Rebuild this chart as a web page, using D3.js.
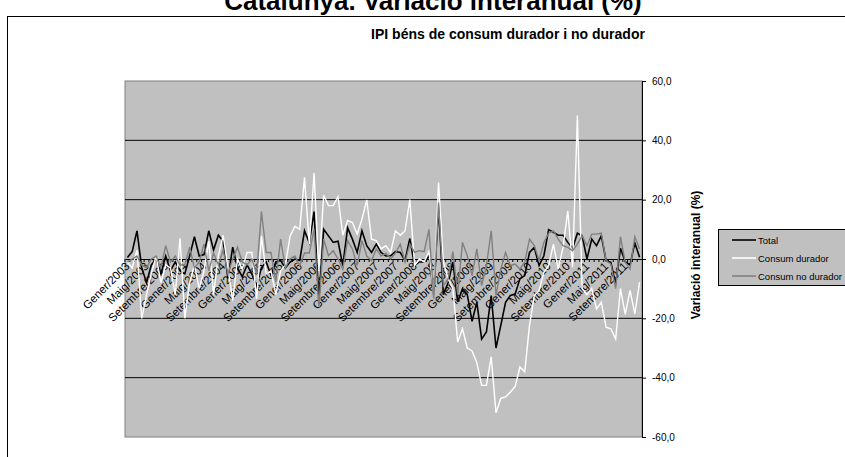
<!DOCTYPE html>
<html><head><meta charset="utf-8">
<script src="https://cdn.jsdelivr.net/npm/d3@7"></script>
<style>body{margin:0;background:#fff}svg{display:block}text{font-family:"Liberation Sans",Arial,sans-serif}</style>
</head><body><svg id="c" width="845" height="457"></svg>
<script>
const title = "Catalunya. Variació interanual (%)";
const subtitle = "IPI béns de consum durador i no durador";
const yTitle = "Variació interanual (%)";
const years = [2003,2004,2005,2006,2007,2008,2009,2010,2011];
const months = ["Gener","Febrer","Març","Abril","Maig","Juny","Juliol","Agost","Setembre","Octubre","Novembre","Desembre"];
const yTicks = [-60,-40,-20,0,20,40,60];
const seriesNames = ["Total","Consum durador","Consum no durador"];
const total = [0.5,2.5,9.5,-3,-8,-2,0,-5,1,-4,-1,-4,
 -5,1,7.5,1,1.5,9.5,3,8,6,-6.5,4,-3,
 -6,-2,-5,-9,-3,-1,-5.5,-1,-0.5,-3,-1,0,
 -0.5,9.5,5.5,16,-14,10,7.8,5.6,6,-2.2,10.5,6.7,
 2.2,9.5,4.5,2.2,5,2.2,1,1.1,2.5,2.2,-0.5,6.9,
 -2.2,-1,-1,1.1,-12,18,-12,-8,-1,-14.5,-10,-12,
 -21,-14.6,-27,-24.6,-12.3,-30,-22.4,-14.6,-12.3,-11.8,-6.7,-5.6,
 2.2,3.9,-2.2,1.1,9.9,9,8,8,5.6,3.6,8.7,7.8,
 0,6.7,4.5,7.8,-0.6,-1.1,-8.4,3.6,-0.9,-2,5.4,0.6];
const durador = [-1,-3,3,-20,-12,-5,1,-8,-2,-3,-12,7,
 -20,-8,-2,-10,-4,6,-12,1,8,-3,-14,0,
 -3.4,2.2,2.2,-13.4,7.8,-5,-4,-12,-4,-2,7.8,11,
 10,27.5,5,29,-4,21.5,18,18,21,8,13,12.3,
 8.4,13.4,19.9,6.7,6.2,3.4,4.5,2.2,9.5,8,9.5,20,
 -2.2,0,-1,2.5,-12,25.8,-1,-6.7,-10,-28,-23.5,-30,
 -31,-35,-42.6,-42.6,-33,-51.8,-47,-46.5,-44.8,-43,-36.4,-38,
 -22.4,-12.3,-10.6,-4.5,-2.2,5,-3.4,3.9,16.2,-2.8,48.4,-10,
 -12,-10,-16.8,-14.6,-23,-23.5,-27,-10,-18.7,-10.6,-18.5,-7.8];
const noDurador = [-1,0,1,-2,-3,0,1,-3,4.5,-1,1,-2,
 -2,4,-3,-1,5,-4,2,-2,3,-5,0,4,
 -1,-2,0,-5,16,2.2,2.2,-7.8,6.7,-3,0,1,
 -2.2,2,2,10,-16,6.7,1.1,2.8,0,-3.4,6.2,3.4,
 -2.2,6.2,1,-0.5,3.4,1,2,0,2,5,-1,5,
 2.2,2.8,2.5,10,-13.4,19,-9,-6.7,2.5,-12,5.6,1.1,
 -5.6,3.4,-9,-2.2,9.5,-12.3,-3.4,2.2,-2.2,-1.7,-3.4,-1,
 6.7,4.5,-0.5,5.6,8.7,9.5,6.7,4.5,3.9,2.8,5,7.8,
 4.5,8.4,8.4,8.7,-0.6,-1.7,-10,7.5,-1.1,-3.4,7.5,3.4];

const cats = [];
years.forEach(y => months.forEach(m => cats.push(m + "/" + y)));

const svg = d3.select("#c");
const L = 125, R = 642, T = 81, B = 437;
const x = d3.scaleBand().domain(cats).range([L, R]);
const y = d3.scaleLinear().domain([-60, 60]).range([B, T]);
const cx = c => x(c) + x.bandwidth() / 2;

// outer border
svg.append("rect").attr("x", 7.5).attr("y", 16.5).attr("width", 850).attr("height", 460)
  .attr("fill", "#fff").attr("stroke", "#000");
svg.append("text").attr("x", 433).attr("y", 10).attr("text-anchor", "middle")
  .attr("font-size", 26).attr("font-weight", "bold").text(title);
svg.append("text").attr("x", 508).attr("y", 39).attr("text-anchor", "middle")
  .attr("font-size", 14).attr("font-weight", "bold").text(subtitle);

// plot area
svg.append("rect").attr("x", L).attr("y", T).attr("width", R - L).attr("height", B - T)
  .attr("fill", "#C0C0C0").attr("stroke", "#808080");
svg.append("g").selectAll("line").data(yTicks.filter(d => d !== 0 && Math.abs(d) !== 60)).join("line")
  .attr("x1", L).attr("x2", R).attr("y1", d => y(d)).attr("y2", d => y(d)).attr("stroke", "#000");

// category axis at 0
const xAxis = d3.axisBottom(x).tickSize(3).tickSizeOuter(0).tickFormat("");
const gx = svg.append("g").attr("transform", `translate(0,${y(0)})`).call(xAxis);
gx.selectAll(".tick line").attr("transform", `translate(${-x.bandwidth() / 2},0)`);
gx.select(".domain").attr("stroke", "#000");

const labelled = cats.filter((c, i) => i % 4 === 0);
svg.append("g").selectAll("text").data(labelled).join("text")
  .attr("transform", d => `translate(${cx(d) + 3},${y(0) + 8}) rotate(-45)`)
  .attr("text-anchor", "end").attr("font-size", 11.5).attr("fill", "#000").text(d => d);

// lines
const data = [total, durador, noDurador];
const colors = ["#000000", "#FFFFFF", "#808080"];
const widths = [1.6, 1.4, 1.4];
const line = d3.line().x((d, i) => cx(cats[i])).y(d => y(d));
data.forEach((s, k) => {
  svg.append("path").datum(s).attr("d", line).attr("fill", "none")
    .attr("stroke", colors[k]).attr("stroke-width", widths[k]).attr("stroke-linejoin", "miter");
});

// right axis
const yAxis = d3.axisRight(y).tickValues(yTicks).tickSize(4)
  .tickFormat(d => d.toFixed(1).replace(".", ","));
const gy = svg.append("g").attr("transform", `translate(${R},0)`).call(yAxis);
gy.selectAll("text").attr("font-size", 10).attr("x", 10).attr("font-family", "'Liberation Sans',Arial,sans-serif");
gy.select(".domain").attr("stroke", "#000");
svg.append("text").attr("transform", `translate(700,255) rotate(-90)`).attr("text-anchor", "middle")
  .attr("font-size", 12).attr("font-weight", "bold").text(yTitle);

// legend
const lg = svg.append("g");
lg.append("rect").attr("x", 718.5).attr("y", 229.5).attr("width", 130).attr("height", 56)
  .attr("fill", "#C0C0C0").attr("stroke", "#000");
seriesNames.forEach((n, k) => {
  const yy = 240 + k * 18;
  lg.append("line").attr("x1", 732).attr("x2", 756).attr("y1", yy).attr("y2", yy)
    .attr("stroke", colors[k]).attr("stroke-width", 1.6);
  lg.append("text").attr("x", 758).attr("y", yy + 3.5).attr("font-size", 9.5).text(n);
});
</script></body></html>
